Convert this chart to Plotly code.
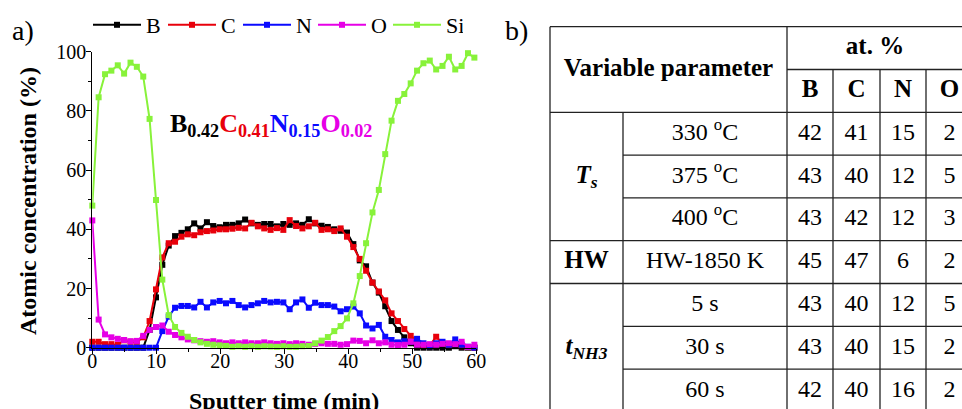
import plotly.graph_objects as go

# ---------------- data: depth profile ----------------
sputter_time = [0, 0.99, 1.99, 2.98, 3.98, 4.97, 5.97, 6.96, 7.96, 8.95, 9.95, 10.94, 11.94,
                12.93, 13.93, 14.92, 15.92, 16.91, 17.91, 18.9, 19.9, 20.89, 21.89, 22.88,
                23.88, 24.87, 25.87, 26.86, 27.86, 28.85, 29.85, 30.84, 31.84, 32.83, 33.83,
                34.82, 35.82, 36.81, 37.81, 38.8, 39.8, 40.79, 41.79, 42.78, 43.78, 44.77,
                45.77, 46.76, 47.76, 48.75, 49.75, 50.74, 51.74, 52.73, 53.73, 54.72, 55.72,
                56.71, 57.71, 58.7, 59.7]

conc_B = [0, 0, 0, 0, 0, 0, 0, 0, 0, 6, 17, 28, 34.5, 37.7, 38.8, 40, 42, 40.3, 42.4, 41.1,
          40.7, 41.5, 41.5, 42, 43.3, 42, 41.5, 41.8, 41.8, 41, 41.8, 41.5, 42, 41.5, 43.4, 42,
          41.2, 40.8, 40, 39.5, 38.9, 35, 29.5, 27.5, 22, 18.6, 14, 9, 6, 3.5, 1.5, 0, 0, 0, 0,
          0, 0, 0.5, 0, 0, 0]
conc_C = [2, 2, 1.2, 1.2, 1, 2.5, 2, 2, 3.5, 9, 19.7, 30.5, 35.3, 35.8, 37.5, 38.3, 38, 39,
          39.4, 39.6, 40, 40, 40.2, 40.5, 40.3, 42.2, 41, 40.3, 39.8, 40.4, 39.8, 43.1, 41.1,
          40.3, 41, 42.2, 39.8, 40, 39.4, 40.3, 37.5, 34, 30, 26, 22, 19, 16, 11.6, 9, 6.3, 4,
          2.5, 1, 0.8, 3.7, 1.5, 1, 1.5, 0.5, 0.2, 0]
conc_N = [0, 0, 0, 0, 0, 0, 0, 0, 0, 0, 0, 5.6, 10.5, 13.5, 14.1, 14.1, 13.6, 15.5, 13.6, 15.3,
          15.8, 15, 15.8, 14.4, 13.6, 14.4, 15, 15.8, 15.3, 15.5, 15.3, 13, 15.3, 16.3, 13.5,
          15.2, 14.4, 14.4, 13.9, 12.3, 13, 13.9, 11.6, 7.5, 6.5, 7.7, 3.7, 2.6, 1.8, 2.2, 2, 3,
          1.5, 0.5, 1.5, 2, 1, 2.8, 1, 0.3, 0]
conc_O = [43, 9.5, 4.5, 3.5, 3, 2.6, 2.2, 2.3, 4, 6, 7, 7.5, 5.4, 4.3, 3.5, 2.8, 2.5, 2.2, 2,
          2.2, 1.8, 1.5, 1.8, 1.5, 1.8, 1.5, 1.5, 1.8, 1.5, 1.3, 1.5, 1.2, 1.5, 1.3, 1.0, 1.3,
          1.5, 1.3, 1.3, 1.0, 1.2, 2.4, 2.3, 1.5, 2.5, 1.5, 1.8, 1.0, 0.9, 1, 2, 1, 1, 1.2, 1,
          1.3, 1.5, 1.2, 2, 0.3, 1]
conc_Si = [48, 84.6, 92.4, 93.6, 95.4, 92.6, 96.3, 94.9, 91.6, 77.3, 49.9, 23, 11, 7, 5, 3.7,
           2.6, 1.8, 1.3, 1.0, 0.8, 0.6, 0.3, 0.5, 0.3, 0.5, 0.3, 0.5, 0.4, 0.3, 0.5, 0.3, 0.3,
           0.5, 0.6, 1.5, 2.4, 3.6, 5.6, 7.3, 9.9, 15, 24.2, 35.3, 45.7, 53.3, 65.4, 76.7, 83.4,
           85.7, 89.3, 93.6, 96.1, 97, 94, 95.2, 98.3, 94, 95.2, 99.5, 98]

series_names = ["B", "C", "N", "O", "Si"]
series_values = [conc_B, conc_C, conc_N, conc_O, conc_Si]
series_colors = ["#000000", "#e8000b", "#0a0aff", "#e600e6", "#88f23a"]

x_ticks = [0, 10, 20, 30, 40, 50, 60]
y_ticks = [0, 20, 40, 60, 80, 100]

# ---------------- data: composition table ----------------
group_labels = ["<b><i>T<sub>s</sub></i></b>", "<b>HW</b>", "<b><i>t<sub>NH3</sub></i></b>"]
group_spans = [3, 1, 3]
param_labels = ["330 <sup>o</sup>C", "375 <sup>o</sup>C", "400 <sup>o</sup>C", "HW-1850 K",
                "5 s", "30 s", "60 s"]
at_B = [42, 43, 43, 45, 43, 43, 42]
at_C = [41, 40, 42, 47, 40, 40, 40]
at_N = [15, 12, 12, 6, 12, 15, 16]
at_O = [2, 5, 3, 2, 5, 2, 2]
element_headers = ["B", "C", "N", "O"]

# ---------------- layout constants ----------------
OFF = 0                      # page body margin is removed below
W, H = 962 - OFF, 409 - OFF
FONT = "Liberation Serif"

def fx(px):
    return (px - OFF) / W

def fy(py):
    return 1 - (py - OFF) / H

x_dom = [fx(92.3), fx(476.3)]
y_dom = [fy(347.7), fy(51.7)]

fig = go.Figure()

for name, vals, col in zip(series_names, series_values, series_colors):
    fig.add_trace(go.Scatter(
        x=sputter_time, y=vals, name=name, mode="lines+markers",
        line=dict(color=col, width=2),
        marker=dict(symbol="square", size=6, color=col),
        cliponaxis=False, xaxis="x", yaxis="y"))

# ---------------- table drawn on its own hidden axes ----------------
col_edges = [0, 73, 237, 283, 330, 376, 423]   # table units (px from table left)
row_h = 42.8
table_top_px = 26.7
line_style = dict(color="#222222", width=1.3)
shapes = []

def hline(y, x0, x1):
    shapes.append(dict(type="line", xref="x2", yref="y2", x0=x0, x1=x1, y0=y, y1=y,
                       line=line_style))

def vline(x, y0, y1):
    shapes.append(dict(type="line", xref="x2", yref="y2", x0=x, x1=x, y0=y0, y1=y1,
                       line=line_style))

n_rows = len(param_labels) + 2
hline(0, col_edges[0], col_edges[-1])
hline(1, col_edges[2], col_edges[-1])
hline(2, col_edges[0], col_edges[-1])
r = 2
for span in group_spans:
    for k in range(1, span):
        hline(r + k, col_edges[1], col_edges[-1])
    r += span
    hline(r, col_edges[0], col_edges[-1])
vline(col_edges[0], 0, n_rows)
vline(col_edges[1], 2, n_rows)
vline(col_edges[2], 0, n_rows)
for c in col_edges[3:6]:
    vline(c, 1, n_rows)
vline(col_edges[-1], 0, n_rows)

hx, hy, ht = [], [], []   # header texts (bold)
tx, ty, tt = [], [], []   # body texts

hx.append((col_edges[0] + col_edges[2]) / 2); hy.append(1.0); ht.append("<b>Variable parameter</b>")
hx.append((col_edges[2] + col_edges[-1]) / 2 - 5); hy.append(0.5); ht.append("<b>at. %</b>")
for i, e in enumerate(element_headers):
    hx.append((col_edges[2 + i] + col_edges[3 + i]) / 2); hy.append(1.5); ht.append("<b>%s</b>" % e)
r = 2
for lab, span in zip(group_labels, group_spans):
    hx.append((col_edges[0] + col_edges[1]) / 2); hy.append(r + span / 2); ht.append(lab)
    r += span
for i, p in enumerate(param_labels):
    yy = 2.5 + i
    tx.append((col_edges[1] + col_edges[2]) / 2); ty.append(yy); tt.append(p)
    for j, arr in enumerate([at_B, at_C, at_N, at_O]):
        tx.append((col_edges[2 + j] + col_edges[3 + j]) / 2); ty.append(yy); tt.append(str(arr[i]))

fig.add_trace(go.Scatter(x=hx, y=hy, text=ht, mode="text", showlegend=False,
                         textfont=dict(family=FONT, size=25, color="black"),
                         textposition="middle center", cliponaxis=False,
                         xaxis="x2", yaxis="y2", hoverinfo="skip"))
fig.add_trace(go.Scatter(x=tx, y=ty, text=tt, mode="text", showlegend=False,
                         textfont=dict(family=FONT, size=24, color="black"),
                         textposition="middle center", cliponaxis=False,
                         xaxis="x2", yaxis="y2", hoverinfo="skip"))

tick_font = dict(family=FONT, size=20, color="black")
annotations = [
    dict(text="a)", x=fx(10), y=fy(30), xref="paper", yref="paper", showarrow=False,
         xanchor="left", yanchor="middle", font=dict(family=FONT, size=28, color="black")),
    dict(text="b)", x=fx(503), y=fy(30), xref="paper", yref="paper", showarrow=False,
         xanchor="left", yanchor="middle", font=dict(family=FONT, size=28, color="black")),
    dict(text="<b>Atomic concentration (%)</b>", x=fx(28), y=fy(201), xref="paper",
         yref="paper", showarrow=False, textangle=-90, xanchor="center", yanchor="middle",
         font=dict(family=FONT, size=24, color="black")),
    dict(text="<b>Sputter time (min)</b>", x=fx(284), y=fy(386), xref="paper",
         yref="paper", showarrow=False, xanchor="center", yanchor="top",
         font=dict(family=FONT, size=24, color="black")),
    dict(text=("<b><span style='color:#000000'>B<sub>0.42</sub></span>"
               "<span style='color:#e8000b'>C<sub>0.41</sub></span>"
               "<span style='color:#0a0aff'>N<sub>0.15</sub></span>"
               "<span style='color:#e600e6'>O<sub>0.02</sub></span></b>"),
         x=fx(168), y=fy(125), xref="paper", yref="paper", showarrow=False,
         xanchor="left", yanchor="middle", font=dict(family=FONT, size=26)),
]

fig.update_layout(
    width=W, height=H, margin=dict(l=0, r=0, t=0, b=0, autoexpand=False),
    paper_bgcolor="white", plot_bgcolor="rgba(0,0,0,0)",
    font=dict(family=FONT, color="black"),
    xaxis=dict(domain=x_dom, range=[0, 60], tickvals=x_ticks, showgrid=False, zeroline=False,
               automargin=False, ticklabelstandoff=-10,
               showline=True, linecolor="black", linewidth=1.3, ticks="outside", ticklen=5,
               tickwidth=1.2, tickcolor="black", tickfont=tick_font,
               minor=dict(tickvals=[5, 15, 25, 35, 45, 55], ticks="outside", ticklen=3,
                          tickcolor="black", tickwidth=1), anchor="y"),
    yaxis=dict(domain=y_dom, range=[0, 100], tickvals=y_ticks, showgrid=False, zeroline=False,
               automargin=False, ticklabelstandoff=-4,
               showline=True, linecolor="black", linewidth=1.3, ticks="outside", ticklen=5,
               tickwidth=1.2, tickcolor="black", tickfont=tick_font,
               minor=dict(tickvals=[10, 30, 50, 70, 90], ticks="outside", ticklen=3,
                          tickcolor="black", tickwidth=1), anchor="x"),
    xaxis2=dict(domain=[fx(545), 1], range=[-5, 412], visible=False, anchor="y2",
                automargin=False),
    yaxis2=dict(domain=[0, fy(22)], range=[(409 - table_top_px) / row_h, -4.7 / row_h],
                visible=False, anchor="x2", automargin=False),
    shapes=shapes,
    annotations=annotations,
    showlegend=True,
    legend=dict(orientation="h", x=fx(88), y=fy(25), xanchor="left", yanchor="middle",
                font=dict(family=FONT, size=22, color="black"), bgcolor="rgba(0,0,0,0)",
                entrywidth=12, entrywidthmode="pixels", itemwidth=48, tracegroupgap=0),
)

fig.write_html("out.html",
               config={"displayModeBar": False},
               post_script="document.body.style.margin='0px';"
                           "document.body.style.overflow='hidden';")
